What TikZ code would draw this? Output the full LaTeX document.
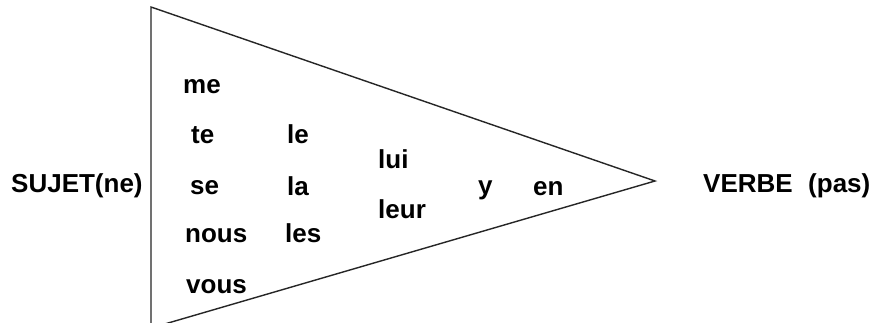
\documentclass[tikz,border=0pt]{standalone}
\usepackage{fontspec}
\setmainfont{Liberation Sans}
\begin{document}
\begin{tikzpicture}[x=1pt,y=-1pt,
  word/.style={anchor=base west,inner sep=0pt,font=\fontsize{26}{30}\selectfont\bfseries},
  edge/.style={draw=black!85,line width=1.4pt,line join=miter}]
\useasboundingbox (0,0) rectangle (874,323);
\fill[white] (0,0) rectangle (874,323);
% funnel
\coordinate (tl) at (151,7);
\coordinate (bl) at (151,328);
\coordinate (apex) at (655,181);
\draw[edge] (bl) -- (tl) -- (apex) -- (bl);
% outer labels
\node[word] (sujet) at (11,192) {SUJET(ne)};
\node[word] (verbe) at (703,192) {VERBE};
\node[word] (pas) at (808,192) {(pas)};
% column 1
\node[word] (me) at (183,94) {me};
\node[word] (te) at (191,144) {te};
\node[word] (se) at (190,194) {se};
\node[word] (nous) at (185,242) {nous};
\node[word] (vous) at (186,293) {vous};
% column 2
\node[word] (le) at (287,143) {le};
\node[word] (la) at (287,195) {la};
\node[word] (les) at (285,242) {les};
% column 3
\node[word] (lui) at (378,168) {lui};
\node[word] (leur) at (378,218) {leur};
% column 4
\node[word] (y) at (478,194) {y};
\node[word] (en) at (533,195) {en};
\end{tikzpicture}
\end{document}
